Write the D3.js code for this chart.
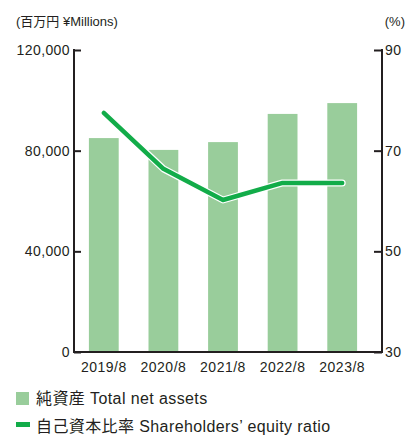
<!DOCTYPE html>
<html>
<head>
<meta charset="utf-8">
<style>
  body { margin: 0; background: #fff; }
  svg { display: block; font-family: "Liberation Sans", Arial, "Noto Sans CJK JP", sans-serif; }
  .axis .domain { display: none; }
  .axis .tick line { stroke: #231f20; stroke-width: 2; }
  .axis .tick text { font-size: 14px; letter-spacing: 0.4px; fill: #231f20; }
  .legend text { font-size: 16px; letter-spacing: 0.4px; fill: #231f20; }
</style>
</head>
<body>
<svg width="407" height="436"></svg>
<script src="https://d3js.org/d3.v7.min.js"></script>
<script>
// data
let years = ["2019/8", "2020/8", "2021/8", "2022/8", "2023/8"];
let netAssets = [85000, 80300, 83400, 94600, 98900];   // 百万円
let equityRatio = [77.5, 66.4, 60.2, 63.6, 63.6];      // %
let leftTicks = [0, 40000, 80000, 120000];
let rightTicks = [30, 50, 70, 90];

let svg = d3.select("svg");
let plotLeft = 74, plotRight = 382, plotTop = 50, plotBottom = 352;

let x = d3.scaleBand()
  .domain(years)
  .range([plotLeft, 372])
  .paddingInner(0.5)
  .paddingOuter(0.25);

let yL = d3.scaleLinear().domain([0, 120000]).range([plotBottom, plotTop]);
let yR = d3.scaleLinear().domain([30, 90]).range([plotBottom, plotTop]);

// bars
svg.append("g")
  .selectAll("rect")
  .data(netAssets)
  .join("rect")
  .attr("x", (d, i) => x(years[i]))
  .attr("width", x.bandwidth())
  .attr("y", d => yL(d))
  .attr("height", d => yL(0) - yL(d))
  .style("fill", "#99cd9b");

// frame lines
let frame = svg.append("g").style("stroke", "#231f20").style("stroke-width", 2).style("fill", "none");
frame.append("path")
  .attr("d", `M${plotLeft},${plotTop - 1}V${plotBottom}H${plotRight}V${plotTop - 1}`);

// left axis, ticks inward
let yAxisL = d3.axisLeft(yL)
  .tickValues(leftTicks)
  .tickSize(-7)
  .tickFormat(d3.format(","));
let gL = svg.append("g")
  .attr("class", "axis")
  .attr("transform", `translate(${plotLeft},0)`)
  .call(yAxisL);
gL.selectAll(".tick text").attr("x", -4);

// right axis
let yAxisR = d3.axisRight(yR)
  .tickValues(rightTicks)
  .tickSize(-8);
let gR = svg.append("g")
  .attr("class", "axis")
  .attr("transform", `translate(${plotRight},0)`)
  .call(yAxisR);
gR.selectAll(".tick text").attr("x", 3);

// x labels
svg.append("g")
  .selectAll("text")
  .data(years)
  .join("text")
  .attr("x", d => x(d) + x.bandwidth() / 2)
  .attr("y", 372)
  .attr("text-anchor", "middle")
  .style("font-size", "14px")
  .style("letter-spacing", "0.5px")
  .style("fill", "#231f20")
  .text(d => d);

// line with white halo
let line = d3.line()
  .x((d, i) => x(years[i]) + x.bandwidth() / 2)
  .y(d => yR(d));

svg.append("path")
  .datum(equityRatio)
  .attr("d", line)
  .style("fill", "none")
  .style("stroke", "#fff")
  .style("stroke-width", 7)
  .style("stroke-linejoin", "round")
  .style("stroke-linecap", "round");

svg.append("path")
  .datum(equityRatio)
  .attr("d", line)
  .style("fill", "none")
  .style("stroke", "#12ac49")
  .style("stroke-width", 4.5)
  .style("stroke-linejoin", "round")
  .style("stroke-linecap", "round");

// unit labels
svg.append("text")
  .attr("x", 16).attr("y", 26)
  .style("font-size", "13px").style("fill", "#231f20")
  .text("(百万円 ¥Millions)");
svg.append("text")
  .attr("x", 405).attr("y", 26)
  .attr("text-anchor", "end")
  .style("font-size", "13px").style("fill", "#231f20")
  .text("(%)");

// legend
let legend = svg.append("g").attr("class", "legend");
legend.append("rect")
  .attr("x", 16).attr("y", 392).attr("width", 13).attr("height", 13)
  .style("fill", "#99cd9b");
legend.append("text")
  .attr("x", 36).attr("y", 404)
  .text("純資産 Total net assets");
legend.append("rect")
  .attr("x", 16).attr("y", 422).attr("width", 14).attr("height", 5)
  .style("fill", "#12ac49");
legend.append("text")
  .attr("x", 36).attr("y", 432)
  .text("自己資本比率 Shareholders’ equity ratio");
</script>
</body>
</html>
